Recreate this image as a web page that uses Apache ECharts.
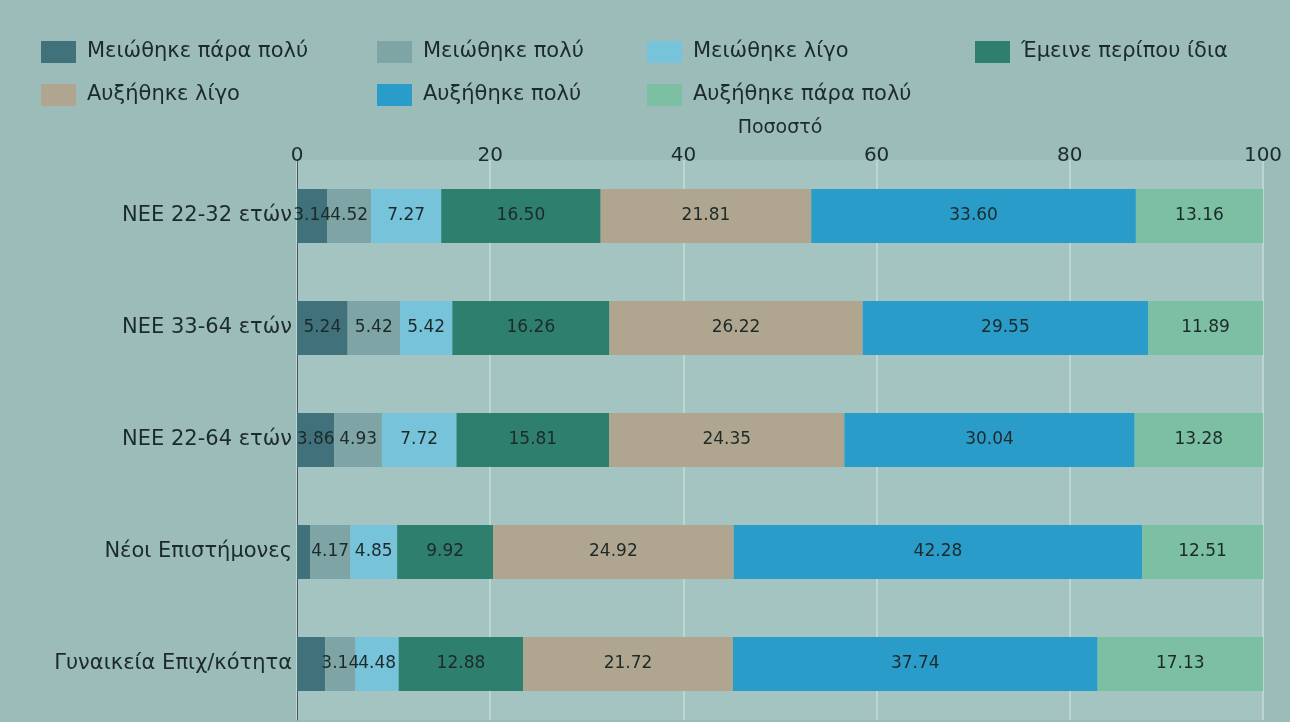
<!DOCTYPE html>
<html>
<head>
<meta charset="utf-8">
<script src="https://cdn.jsdelivr.net/npm/echarts@6/dist/echarts.min.js"></script>
<style>
html,body{margin:0;padding:0;background:#9bbcb9;}
#chart{width:1290px;height:722px;}
</style>
</head>
<body>
<div id="chart"></div>
<script>
const categories = ['NEE 22-32 ετών', 'NEE 33-64 ετών', 'NEE 22-64 ετών', 'Νέοι Επιστήμονες', 'Γυναικεία Επιχ/κότητα'];
const seriesNames = ['Μειώθηκε πάρα πολύ', 'Μειώθηκε πολύ', 'Μειώθηκε λίγο', 'Έμεινε περίπου ίδια', 'Αυξήθηκε λίγο', 'Αυξήθηκε πολύ', 'Αυξήθηκε πάρα πολύ'];
const decreasedVeryMuch = [3.14, 5.24, 3.86, 1.35, 2.91];
const decreasedMuch = [4.52, 5.42, 4.93, 4.17, 3.14];
const decreasedLittle = [7.27, 5.42, 7.72, 4.85, 4.48];
const stayedSame = [16.50, 16.26, 15.81, 9.92, 12.88];
const increasedLittle = [21.81, 26.22, 24.35, 24.92, 21.72];
const increasedMuch = [33.60, 29.55, 30.04, 42.28, 37.74];
const increasedVeryMuch = [13.16, 11.89, 13.28, 12.51, 17.13];
const xTicks = [0, 20, 40, 60, 80, 100];

const values = [decreasedVeryMuch, decreasedMuch, decreasedLittle, stayedSame, increasedLittle, increasedMuch, increasedVeryMuch];
const colors = ['#41727b', '#7fa4a6', '#77c3da', '#2f7f6e', '#b0a690', '#2a9cc9', '#7cbfa3'];

const font = 'DejaVu Sans';
const legendPos = [
  {left: 36, top: 36}, {left: 372, top: 36}, {left: 642, top: 36}, {left: 970, top: 36},
  {left: 36, top: 79}, {left: 372, top: 79}, {left: 642, top: 79}
];

const chart = echarts.init(document.getElementById('chart'));
chart.setOption({
  backgroundColor: '#9bbcb9',
  animation: false,
  legend: seriesNames.map((n, i) => ({
    data: [n],
    left: legendPos[i].left,
    top: legendPos[i].top,
    itemWidth: 35,
    itemHeight: 22,
    itemGap: 16,
    icon: 'rect',
    textStyle: {fontFamily: font, fontSize: 21, color: '#1c2a2a', padding: [0, 0, 0, 6]}
  })),
  grid: {left: 297, right: 27, top: 160, bottom: 2, show: true, backgroundColor: '#a3c4c1', borderWidth: 0},
  xAxis: {
    type: 'value',
    position: 'top',
    min: xTicks[0],
    max: xTicks[xTicks.length - 1],
    interval: 20,
    name: 'Ποσοστό',
    nameLocation: 'middle',
    nameGap: 22,
    nameTextStyle: {fontFamily: font, fontSize: 19, color: '#1c2a2a'},
    axisLine: {show: false},
    axisTick: {show: false},
    axisLabel: {fontFamily: font, fontSize: 20, color: '#1c2a2a', margin: -6},
    splitLine: {show: true, lineStyle: {color: '#bdd6d2', width: 2}}
  },
  yAxis: {
    type: 'category',
    inverse: true,
    data: categories,
    axisLine: {show: true, lineStyle: {color: '#4a5a5a', width: 1}},
    axisTick: {show: false},
    axisLabel: {fontFamily: font, fontSize: 21, color: '#1c2a2a', margin: 5}
  },
  series: seriesNames.map((n, i) => ({
    name: n,
    type: 'bar',
    stack: 'total',
    barWidth: 54,
    itemStyle: {color: colors[i]},
    label: {
      show: true,
      position: 'inside',
      fontFamily: font,
      fontSize: 17,
      color: '#1c2a2a',
      formatter: p => p.value < 3 ? '' : p.value.toFixed(2)
    },
    data: values[i]
  }))
});
</script>
</body>
</html>
